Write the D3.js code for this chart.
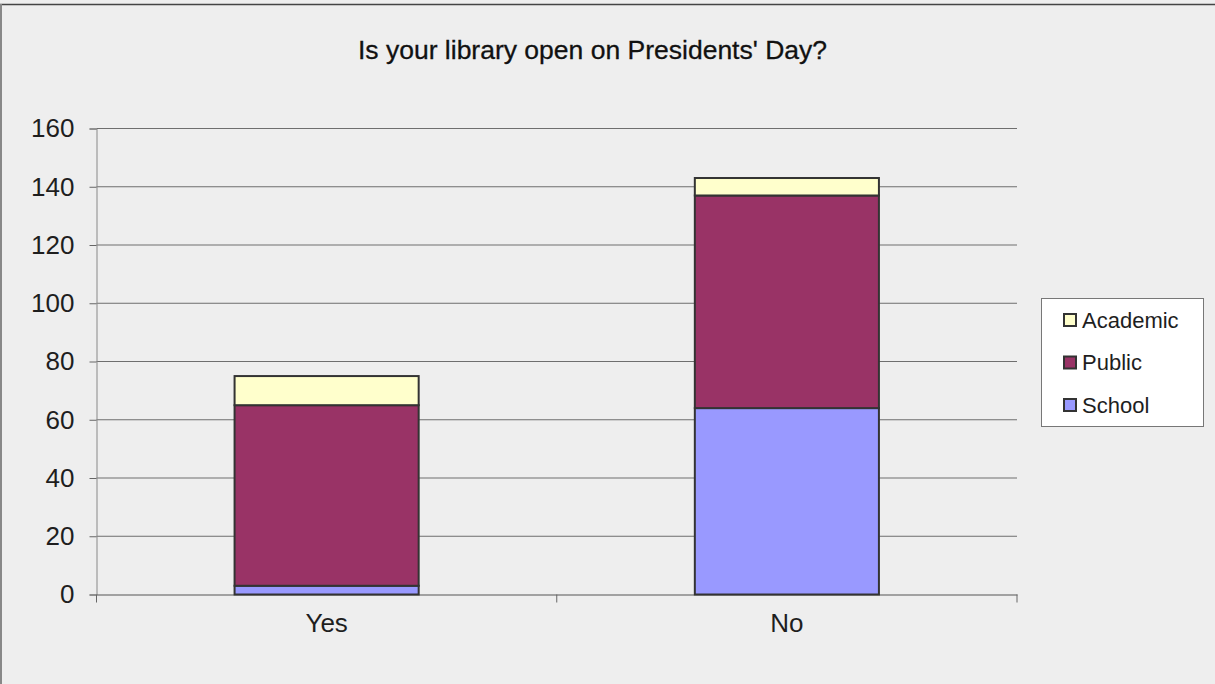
<!DOCTYPE html>
<html><head><meta charset="utf-8">
<script src="https://cdn.jsdelivr.net/npm/d3@7"></script>
<style>html,body{margin:0;padding:0;background:#eeeeee;}svg{display:block;}</style>
</head><body>
<svg id="c" width="1215" height="684"></svg>
<script>
const categories = ["Yes", "No"];
const seriesNames = ["School", "Public", "Academic"];
const school = [3, 64];
const publicLib = [62, 73];
const academic = [10, 6];
const yTicks = [0, 20, 40, 60, 80, 100, 120, 140, 160];
const title = "Is your library open on Presidents' Day?";
const colors = {School: "#9999ff", Public: "#993366", Academic: "#ffffcc"};

const rows = categories.map((c, i) => ({cat: c, School: school[i], Public: publicLib[i], Academic: academic[i]}));
const stack = d3.stack().keys(seriesNames)(rows);

const svg = d3.select("#c");
const font = "'Liberation Sans', Arial, sans-serif";
svg.append("rect").attr("x", 0).attr("y", 0).attr("width", 1215).attr("height", 684).attr("fill", "#eeeeee");
// frame: top and left edges only visible
svg.append("line").attr("x1", 0).attr("x2", 1215).attr("y1", 4.5).attr("y2", 4.5)
  .attr("stroke", "#444").attr("stroke-width", 1.5);
svg.append("line").attr("x1", 1).attr("x2", 1).attr("y1", 4).attr("y2", 684)
  .attr("stroke", "#888").attr("stroke-width", 2);

const L = 96.5, R = 1017, T = 128.5, B = 594.5;
const x = d3.scaleBand().domain(categories).range([L, R]).paddingInner(0.6).paddingOuter(0.3);
const y = d3.scaleLinear().domain([0, 160]).range([B, T]);

// gridlines
svg.append("g").selectAll("line").data(yTicks.filter(d => d > 0)).join("line")
  .attr("x1", L).attr("x2", R).attr("y1", d => y(d)).attr("y2", d => y(d))
  .attr("stroke", "#6e6e6e").attr("stroke-width", 1);

// y axis
const yAxis = svg.append("g").attr("transform", `translate(${L},0)`)
  .call(d3.axisLeft(y).tickValues(yTicks).tickSize(7).tickPadding(15));
yAxis.select(".domain").attr("stroke", "#888");
yAxis.selectAll(".tick line").attr("stroke", "#666");
yAxis.selectAll("text").attr("font-family", font).attr("font-size", 26).attr("fill", "#1e1e1e");

// x axis
const xAxis = svg.append("g").attr("transform", `translate(0,${B})`)
  .call(d3.axisBottom(x).tickSize(0).tickPadding(19));
xAxis.select(".domain").attr("stroke", "#555");
xAxis.selectAll("text").attr("font-family", font).attr("font-size", 26).attr("fill", "#1e1e1e");
const step = x.step();
const sepTicks = [L, L + step, R];
svg.append("g").selectAll("line").data(sepTicks).join("line")
  .attr("x1", d => d).attr("x2", d => d).attr("y1", B).attr("y2", B + 8)
  .attr("stroke", "#666");

// bars
svg.append("g").selectAll("g").data(stack).join("g")
  .attr("fill", d => colors[d.key])
  .selectAll("rect").data(d => d).join("rect")
  .attr("x", d => x(d.data.cat)).attr("width", x.bandwidth())
  .attr("y", d => y(d[1])).attr("height", d => y(d[0]) - y(d[1]))
  .attr("stroke", "#333").attr("stroke-width", 2);

// title
svg.append("text").attr("x", 592.5).attr("y", 59).attr("text-anchor", "middle")
  .attr("font-family", font).attr("font-size", 26.5).attr("fill", "#111")
  .attr("stroke", "#111").attr("stroke-width", 0.3).text(title);

// legend
const lg = svg.append("g");
lg.append("rect").attr("x", 1041.5).attr("y", 298.5).attr("width", 162).attr("height", 128)
  .attr("fill", "#ffffff").attr("stroke", "#777").attr("stroke-width", 1);
const legendOrder = ["Academic", "Public", "School"];
const ly = d3.scalePoint().domain(legendOrder).range([320, 405]);
legendOrder.forEach(k => {
  lg.append("rect").attr("x", 1064).attr("y", ly(k) - 6).attr("width", 12).attr("height", 12)
    .attr("fill", colors[k]).attr("stroke", "#333").attr("stroke-width", 2);
  lg.append("text").attr("x", 1082).attr("y", ly(k)).attr("dy", "0.36em")
    .attr("font-family", font).attr("font-size", 22).attr("fill", "#1e1e1e").text(k);
});
</script>
</body></html>
